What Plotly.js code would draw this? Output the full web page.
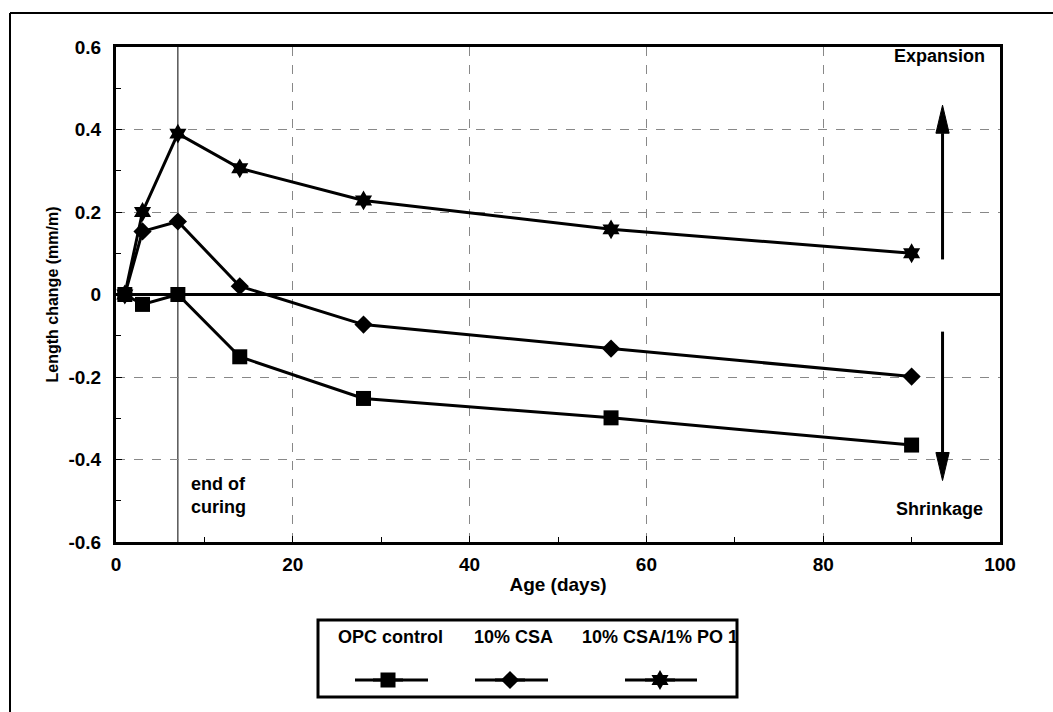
<!DOCTYPE html>
<html>
<head>
<meta charset="utf-8">
<script src="https://cdn.plot.ly/plotly-3.0.1.min.js"></script>
<style>html,body{margin:0;padding:0;background:#fff;}#chart{width:1053px;height:712px;}</style>
</head>
<body>
<div id="chart"></div>
<script>
// ---- data ----
const ages = [1, 3, 7, 14, 28, 56, 90];
const opcControl = [0, -0.024, 0, -0.151, -0.252, -0.299, -0.365];
const csa10 = [0, 0.153, 0.177, 0.02, -0.073, -0.131, -0.199];
const csaPo = [0, 0.20, 0.39, 0.306, 0.228, 0.158, 0.10];
const seriesNames = ["OPC control", "10% CSA", "10% CSA/1% PO 1"];
const yTickVals = [-0.6, -0.4, -0.2, 0, 0.2, 0.4, 0.6];
const yTickText = ["-0.6", "-0.4", "-0.2", "0", "0.2", "0.4", "0.6"];
const xTitle = "Age (days)";
const yTitle = "Length change (mm/m)";
const endOfCuringDay = 7;

const FONT = "Liberation Sans, Arial, sans-serif";
const fnt = (s) => ({family: FONT, size: s, color: "#000", weight: "bold"});

const base = {type: "scatter", mode: "lines+markers", line: {color: "#000", width: 3}, hoverinfo: "skip"};
const traces = [
  Object.assign({}, base, {x: ages, y: opcControl, name: " ", legend: "legend",
    marker: {symbol: "square", size: 15, color: "#000"}}),
  Object.assign({}, base, {x: ages, y: csa10, name: " ", legend: "legend2",
    marker: {symbol: "diamond", size: 14, color: "#000"}}),
  Object.assign({}, base, {x: ages, y: csaPo, name: " ", legend: "legend3",
    marker: {symbol: "hexagram", size: 15, color: "#000"}})
];

// helpers: pixel -> paper for the custom legend box / frame
const L = 116, T = 47, W = 884, H = 495;
const px = (p) => (p - L) / W;
const py = (p) => (T + H - p) / H;

const legBase = {orientation: "h", bgcolor: "rgba(0,0,0,0)", borderwidth: 0,
  font: {family: FONT, size: 8}, xanchor: "left", yanchor: "middle", itemclick: false, itemdoubleclick: false};

// arrow geometry (data units)
const ax = 93.5, hw = 0.75, hl = 0.068;
const upTip = 0.459, upTail = 0.085, dnTip = -0.451, dnTail = -0.09;

const layout = {
  width: 1053, height: 712,
  paper_bgcolor: "#fff", plot_bgcolor: "#fff",
  margin: {l: L, r: 1053 - L - W, t: T, b: 712 - T - H},
  showlegend: true,
  font: fnt(18),
  xaxis: {
    range: [0, 100], dtick: 20, tick0: 0,
    ticks: "inside", ticklen: 6, tickwidth: 1, tickcolor: "#000",
    minor: {dtick: 10, ticks: "inside", ticklen: 5, tickcolor: "#000", showgrid: false},
    showgrid: true, gridcolor: "#888", griddash: "dash", gridwidth: 1,
    showline: true, linecolor: "#000", linewidth: 3, mirror: true,
    zeroline: false, tickfont: fnt(19), ticklabelstandoff: 3,
    title: {text: xTitle, font: fnt(19), standoff: 4}
  },
  yaxis: {
    range: [-0.6, 0.6], tickmode: "array", tickvals: yTickVals, ticktext: yTickText,
    ticks: "inside", ticklen: 6, tickwidth: 1, tickcolor: "#000",
    minor: {dtick: 0.1, tick0: 0, ticks: "inside", ticklen: 5, tickcolor: "#000", showgrid: false},
    showgrid: true, gridcolor: "#888", griddash: "dash", gridwidth: 1,
    showline: true, linecolor: "#000", linewidth: 3, mirror: true,
    zeroline: true, zerolinecolor: "#000", zerolinewidth: 3,
    tickfont: fnt(19), ticklabelstandoff: 8,
    title: {text: yTitle, font: fnt(16), standoff: 6}
  },
  legend: Object.assign({}, legBase, {x: px(368), y: py(680)}),
  legend2: Object.assign({}, legBase, {x: px(490), y: py(680)}),
  legend3: Object.assign({}, legBase, {x: px(640), y: py(680)}),
  shapes: [
    // end of curing line
    {type: "line", xref: "x", yref: "paper", x0: endOfCuringDay, x1: endOfCuringDay, y0: 0, y1: 1,
     line: {color: "#000", width: 1}, layer: "below"},
    // expansion / shrinkage arrows
    {type: "line", xref: "x", yref: "y", x0: ax, x1: ax, y0: upTail, y1: upTip - hl, line: {color: "#000", width: 3}},
    {type: "path", xref: "x", yref: "y",
     path: `M${ax - hw},${upTip - hl} L${ax},${upTip} L${ax + hw},${upTip - hl} Z`,
     fillcolor: "#000", line: {color: "#000", width: 1}},
    {type: "line", xref: "x", yref: "y", x0: ax, x1: ax, y0: dnTail, y1: dnTip + hl, line: {color: "#000", width: 3}},
    {type: "path", xref: "x", yref: "y",
     path: `M${ax - hw},${dnTip + hl} L${ax},${dnTip} L${ax + hw},${dnTip + hl} Z`,
     fillcolor: "#000", line: {color: "#000", width: 1}},
    // outer figure frame (left + top edges visible)
    {type: "line", xref: "paper", yref: "paper", x0: px(10), x1: px(10), y0: py(13), y1: py(720),
     line: {color: "#000", width: 2}},
    {type: "line", xref: "paper", yref: "paper", x0: px(10), x1: px(1060), y0: py(13), y1: py(13),
     line: {color: "#000", width: 2}},
    // legend box
    {type: "rect", xref: "paper", yref: "paper", x0: px(318), x1: px(737), y0: py(620), y1: py(697),
     line: {color: "#000", width: 3}},
    // legend sample lines
    {type: "line", xref: "paper", yref: "paper", x0: px(355), x1: px(428), y0: py(680), y1: py(680), line: {color: "#000", width: 3}},
    {type: "line", xref: "paper", yref: "paper", x0: px(475), x1: px(548), y0: py(680), y1: py(680), line: {color: "#000", width: 3}},
    {type: "line", xref: "paper", yref: "paper", x0: px(625), x1: px(697), y0: py(680), y1: py(680), line: {color: "#000", width: 3}}
  ],
  annotations: [
    {x: 93.2, y: 0.578, xref: "x", yref: "y", text: "Expansion", showarrow: false, font: fnt(18),
     xanchor: "center", yanchor: "middle"},
    {x: 93.2, y: -0.52, xref: "x", yref: "y", text: "Shrinkage", showarrow: false, font: fnt(18),
     xanchor: "center", yanchor: "middle"},
    {x: 8.3, y: -0.487, xref: "x", yref: "y", text: "end of<br>curing", showarrow: false, xanchor: "left",
     yanchor: "middle", align: "left", font: fnt(18)},
    {x: px(390), y: py(637), xref: "paper", yref: "paper", text: seriesNames[0], showarrow: false,
     xanchor: "center", yanchor: "middle", font: fnt(18)},
    {x: px(513), y: py(637), xref: "paper", yref: "paper", text: seriesNames[1], showarrow: false,
     xanchor: "center", yanchor: "middle", font: fnt(18)},
    {x: px(660), y: py(637), xref: "paper", yref: "paper", text: seriesNames[2], showarrow: false,
     xanchor: "center", yanchor: "middle", font: fnt(18)}
  ]
};

Plotly.newPlot("chart", traces, layout, {displayModeBar: false, staticPlot: true});
</script>
</body>
</html>
